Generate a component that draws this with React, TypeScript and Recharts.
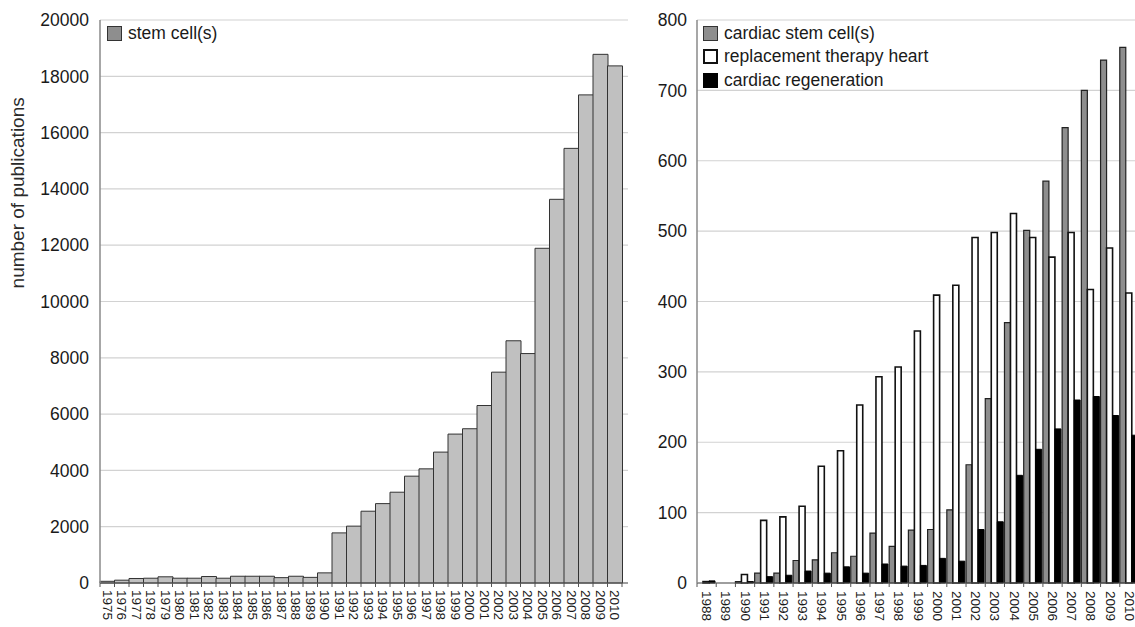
import React from 'react';
import { BarChart, Bar, XAxis, YAxis, CartesianGrid } from 'recharts';

// ---------- data ----------
const yearsLeft = [
  '1975', '1976', '1977', '1978', '1979', '1980', '1981', '1982', '1983', '1984', '1985', '1986',
  '1987', '1988', '1989', '1990', '1991', '1992', '1993', '1994', '1995', '1996', '1997', '1998',
  '1999', '2000', '2001', '2002', '2003', '2004', '2005', '2006', '2007', '2008', '2009', '2010',
];
const stemCells = [
  60, 100, 160, 170, 220, 170, 170, 230, 170, 240, 240, 240,
  190, 240, 200, 360, 1780, 2020, 2550, 2820, 3225, 3795, 4055, 4650,
  5290, 5480, 6305, 7490, 8605, 8150, 11890, 13630, 15440, 17340, 18780, 18370,
];
const leftTicks = [0, 2000, 4000, 6000, 8000, 10000, 12000, 14000, 16000, 18000, 20000];

const yearsRight = [
  '1988', '1989', '1990', '1991', '1992', '1993', '1994', '1995', '1996', '1997', '1998', '1999',
  '2000', '2001', '2002', '2003', '2004', '2005', '2006', '2007', '2008', '2009', '2010',
];
const cardiacStemCells = [0, 0, 2, 14, 14, 32, 33, 43, 38, 71, 52, 75, 76, 104, 168, 262, 370, 501, 571, 647, 700, 743, 761];
const replacementTherapy = [2, 0, 12, 89, 94, 109, 166, 188, 253, 293, 307, 358, 409, 423, 491, 498, 525, 491, 463, 498, 417, 476, 412];
const cardiacRegeneration = [3, 0, 2, 9, 11, 17, 14, 23, 14, 27, 24, 25, 35, 31, 76, 87, 153, 190, 219, 260, 265, 238, 210];
const rightTicks = [0, 100, 200, 300, 400, 500, 600, 700, 800];

const leftData = yearsLeft.map((year, i) => ({ year, stem: stemCells[i] }));
const rightData = yearsRight.map((year, i) => ({
  year,
  cardiac: cardiacStemCells[i],
  replacement: replacementTherapy[i],
  regeneration: cardiacRegeneration[i],
}));

const FONT = '"Liberation Sans", Arial, Helvetica, sans-serif';

// ---------- geometry ----------
const L_W = 640;
const L_H = 627;
const L_YW = 100;
const L_RW = 12;
const L_PADR = 6;
const L_BAND = (L_W - L_YW - L_RW - L_PADR) / yearsLeft.length;

const R_W = 540;
const R_YW = 97;
const R_MR = 1;
const R_BAND = (R_W - R_YW - R_MR) / yearsRight.length;

const makeXTick = (band: number, fontSize: number, gap: number, last: number) => (props: any) => {
  const { x, y, payload, index } = props;
  const ty = y + gap;
  return (
    <g>
      <line x1={x - band / 2} x2={x - band / 2} y1={y} y2={y + 4} stroke="#555" strokeWidth={1} />
      {index === last ? (
        <line x1={x + band / 2} x2={x + band / 2} y1={y} y2={y + 4} stroke="#555" strokeWidth={1} />
      ) : null}
      <text
        x={x}
        y={ty}
        transform={`rotate(90, ${x}, ${ty})`}
        textAnchor="start"
        dominantBaseline="central"
        fontSize={fontSize}
        fill="#1a1a1a"
        fontFamily={FONT}
      >
        {payload.value}
      </text>
    </g>
  );
};

const LeftXTick = makeXTick(L_BAND, 13.5, 7, yearsLeft.length - 1);
const RightXTick = makeXTick(R_BAND, 13.5, 8, yearsRight.length - 1);

const renderYLabel = (props: any) => {
  const vb = props.viewBox || { x: 0, y: 20, width: 100, height: 563 };
  const cx = vb.x + 18;
  const cy = vb.y + vb.height * 0.307;
  return (
    <text
      x={cx}
      y={cy}
      transform={`rotate(-90, ${cx}, ${cy})`}
      textAnchor="middle"
      dominantBaseline="central"
      fontSize={19}
      fill="#2a2a2a"
      fontFamily={FONT}
    >
      number of publications
    </text>
  );
};

const legendText: React.CSSProperties = {
  fontFamily: FONT,
  fontSize: 17.5,
  color: '#1a1a1a',
  lineHeight: '23.5px',
  whiteSpace: 'nowrap',
  display: 'flex',
  alignItems: 'center',
};

const swatch = (bg: string, border: string, bw: number): React.CSSProperties => ({
  width: 15,
  height: 15,
  boxSizing: 'border-box',
  background: bg,
  border: `${bw}px solid ${border}`,
  marginRight: 6,
  display: 'inline-block',
});

export default function App() {
  return (
    <div
      style={{
        position: 'fixed',
        left: 0,
        top: 0,
        width: 1135,
        height: 627,
        overflow: 'hidden',
        background: '#fff',
      }}
    >
      {/* Left chart */}
      <div style={{ position: 'absolute', left: 0, top: 0, width: L_W, height: L_H }}>
        <BarChart
          width={L_W}
          height={L_H}
          data={leftData}
          margin={{ top: 20, right: 0, bottom: 0, left: 0 }}
          barCategoryGap={0}
          barGap={0}
        >
          <CartesianGrid vertical={false} stroke="#d2d2d2" strokeWidth={1.2} />
          <XAxis
            dataKey="year"
            height={44}
            interval={0}
            tickSize={0}
            tickMargin={0}
            tickLine={false}
            padding={{ left: 0, right: L_PADR }}
            axisLine={{ stroke: '#555', strokeWidth: 1.2 }}
            tick={LeftXTick}
          />
          <YAxis
            width={L_YW}
            domain={[0, 20000]}
            ticks={leftTicks}
            interval={0}
            tickSize={0}
            tickMargin={11}
            tickLine={false}
            axisLine={{ stroke: '#8a8a8a', strokeWidth: 1.5 }}
            tick={{ fontSize: 17.5, fill: '#1a1a1a', fontFamily: FONT }}
            label={{ content: renderYLabel }}
          />
          <YAxis
            yAxisId="r"
            orientation="right"
            width={L_RW}
            domain={[0, 20000]}
            ticks={leftTicks}
            interval={0}
            tickSize={5}
            tickLine={{ stroke: '#aaa' }}
            axisLine={false}
            tick={() => <g />}
          />
          <Bar dataKey="stem" fill="#c0c0c0" stroke="#333" strokeWidth={1} isAnimationActive={false} />
        </BarChart>
        <div style={{ position: 'absolute', left: 107, top: 21.5 }}>
          <div style={legendText}>
            <span style={swatch('#8e8e8e', '#333', 1.5)} />
            stem cell(s)
          </div>
        </div>
      </div>

      {/* Right chart */}
      <div style={{ position: 'absolute', left: 600, top: 0, width: R_W, height: L_H }}>
        <BarChart
          width={R_W}
          height={L_H}
          data={rightData}
          margin={{ top: 20, right: R_MR, bottom: 0, left: 0 }}
          barCategoryGap={0}
          barGap={0}
        >
          <CartesianGrid vertical={false} stroke="#d2d2d2" strokeWidth={1.2} />
          <XAxis
            dataKey="year"
            height={44}
            interval={0}
            tickSize={0}
            tickMargin={0}
            tickLine={false}
            axisLine={{ stroke: '#555', strokeWidth: 1.2 }}
            tick={RightXTick}
          />
          <YAxis
            width={R_YW}
            domain={[0, 800]}
            ticks={rightTicks}
            interval={0}
            tickSize={0}
            tickMargin={10}
            tickLine={false}
            axisLine={{ stroke: '#8a8a8a', strokeWidth: 1.5 }}
            tick={{ fontSize: 17.5, fill: '#1a1a1a', fontFamily: FONT }}
          />
          <Bar dataKey="cardiac" fill="#8e8e8e" stroke="#222" strokeWidth={1.2} isAnimationActive={false} />
          <Bar dataKey="replacement" fill="#ffffff" stroke="#111" strokeWidth={1.6} isAnimationActive={false} />
          <Bar dataKey="regeneration" fill="#000000" stroke="#000" strokeWidth={1} isAnimationActive={false} />
        </BarChart>
        <div style={{ position: 'absolute', left: 103, top: 21.5 }}>
          <div style={legendText}>
            <span style={swatch('#8e8e8e', '#333', 1.5)} />
            cardiac stem cell(s)
          </div>
          <div style={legendText}>
            <span style={swatch('#ffffff', '#111', 2)} />
            replacement therapy heart
          </div>
          <div style={legendText}>
            <span style={swatch('#000000', '#000', 1)} />
            cardiac regeneration
          </div>
        </div>
      </div>
    </div>
  );
}
